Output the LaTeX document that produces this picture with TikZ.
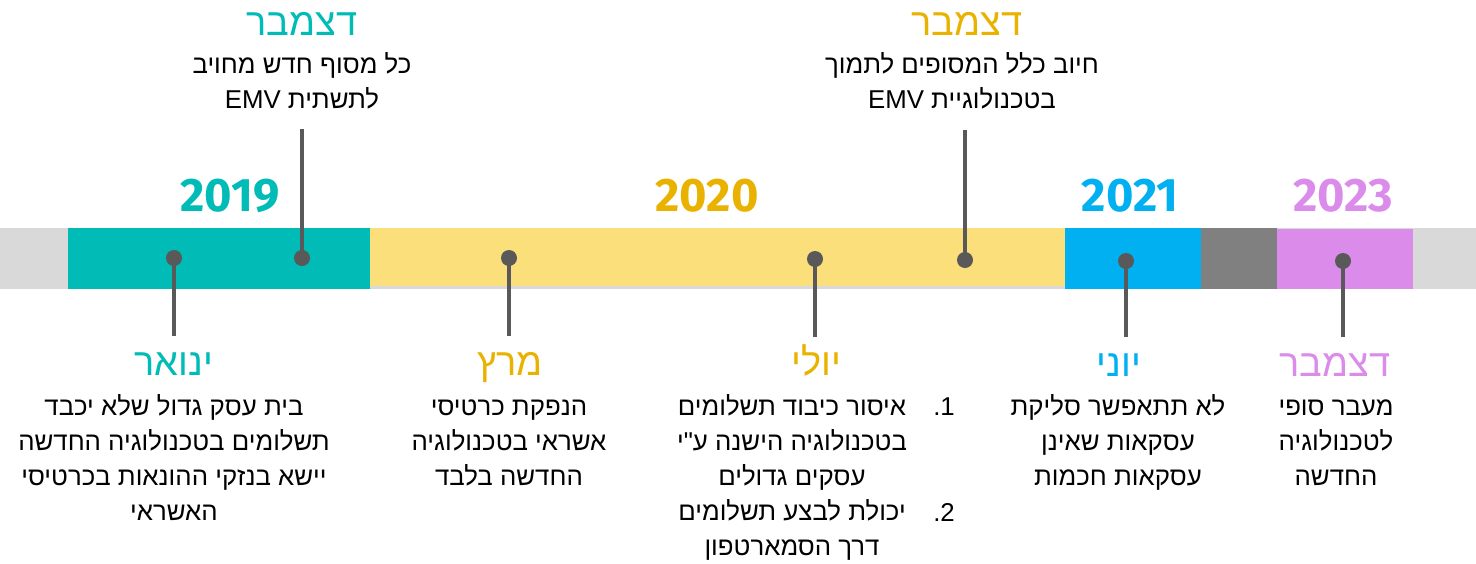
\documentclass[tikz,border=0pt]{standalone}
\usepackage{fontspec}
\setmainfont{Liberation Sans}[Script=Hebrew]
\newfontfamily\yearfont{Fira Sans}
\TeXXeTstate=1
\usetikzlibrary{positioning}
\definecolor{Teal}{RGB}{0, 187, 182}
\definecolor{GoldText}{RGB}{234, 178, 0}
\definecolor{GoldBar}{RGB}{250, 223, 122}
\definecolor{Sky}{RGB}{0, 176, 240}
\definecolor{Lilac}{RGB}{219, 140, 234}
\definecolor{BarGray}{RGB}{217, 217, 217}
\definecolor{MidGray}{RGB}{128, 128, 128}
\definecolor{Stem}{RGB}{89, 89, 89}
\newcommand{\heb}[1]{\beginR #1\endR}
\newcommand{\qmark}{\XeTeXglyph\the\XeTeXcharglyph"22\relax}

\begin{document}
\begin{tikzpicture}[x=1pt, y=-1pt,
    stem/.style={draw=Stem, line width=4.5pt},
    dot/.style={circle, fill=Stem, inner sep=0pt, minimum size=16pt},
    year/.style={font=\yearfont\bfseries\fontsize{47}{47}\selectfont, anchor=base},
    month/.style={font=\fontsize{38}{40}\selectfont, anchor=base},
    body/.style={font=\fontsize{25.8}{35}\selectfont, align=center, anchor=base, inner sep=0pt}]
            \useasboundingbox (0,0) rectangle (1476,563);

            % the time bar
            \fill[BarGray] (0,228) rectangle (1476,289);
            \fill[Teal] (68,228) rectangle (370,289);
            \fill[GoldBar] (370,228) rectangle (1065,286);
            \fill[Sky] (1065,228) rectangle (1201,289);
            \fill[MidGray] (1201,228) rectangle (1277,289);
            \fill[Lilac] (1277,229) rectangle (1413,289);

            % years
            \node[year, text=Teal] (y2019) at (230,211) {2019};
            \node[year, text=GoldText] (y2020) at (707,211) {2020};
            \node[year, text=Sky] (y2021) at (1130,211) {2021};
            \node[year, text=Lilac] (y2023) at (1343,211) {2023};

            % stems ends
            \coordinate (janEnd) at (174,336);
            \coordinate (decAEnd) at (302,129);
            \coordinate (marEnd) at (509,336);
            \coordinate (julEnd) at (815,337);
            \coordinate (decBEnd) at (965,130);
            \coordinate (junEnd) at (1126,337);
            \coordinate (decCEnd) at (1343,337);

            % dots on the bar
            \node[dot] (janDot) at (174,258) {};
            \node[dot] (decADot) at (302,258) {};
            \node[dot] (marDot) at (509,258) {};
            \node[dot] (julDot) at (815,259) {};
            \node[dot] (decBDot) at (965,260) {};
            \node[dot] (junDot) at (1126,261) {};
            \node[dot] (decCDot) at (1343,261) {};

            \draw[stem] (janDot.center) -- (janEnd);
            \draw[stem] (decADot.center) -- (decAEnd);
            \draw[stem] (marDot.center) -- (marEnd);
            \draw[stem] (julDot.center) -- (julEnd);
            \draw[stem] (decBDot.center) -- (decBEnd);
            \draw[stem] (junDot.center) -- (junEnd);
            \draw[stem] (decCDot.center) -- (decCEnd);

            % top events (base = last line)
            \node[month, text=Teal] (decA) at (302,35) {\heb{דצמבר}};
            \node[body] (decAText) at (302,108) {\heb{כל מסוף חדש מחויב}\\\heb{לתשתית \beginL EMV\endL}};

            \node[month, text=GoldText] (decB) at (967,35) {\heb{דצמבר}};
            \node[body] (decBText) at (962,108) {\heb{חיוב כלל המסופים לתמוך}\\\heb{בטכנולוגיית \beginL EMV\endL}};

            % bottom events
            \node[month, text=Teal] (jan) at (174,375) {\heb{ינואר}};
            \node[body] (janText) at (174,520) {\heb{בית עסק גדול שלא יכבד}\\\heb{תשלומים בטכנולוגיה החדשה}\\\heb{יישא בנזקי ההונאות בכרטיסי}\\\heb{האשראי}};

            \node[month, text=GoldText] (mar) at (510,375) {\heb{מרץ}};
            \node[body] (marText) at (509,485) {\heb{הנפקת כרטיסי}\\\heb{אשראי בטכנולוגיה}\\\heb{החדשה בלבד}};

            \node[month, text=GoldText] (jul) at (816,375) {\heb{יולי}};
            \node[body] (julText) at (792,555) {\heb{איסור כיבוד תשלומים}\\\heb{בטכנולוגיה הישנה ע\qmark י}\\\heb{עסקים גדולים}\\\heb{יכולת לבצע תשלומים}\\\heb{דרך הסמארטפון}};
            \node[body] (julOne) at (944,415) {.\kern0pt 1};
            \node[body] (julTwo) at (944,521) {.\kern0pt 2};

            \node[month, text=Sky] (jun) at (1119,376) {\heb{יוני}};
            \node[body] (junText) at (1118,485) {\heb{לא תתאפשר סליקת}\\\heb{עסקאות שאינן}\\\heb{עסקאות חכמות}};

            \node[month, text=Lilac] (decC) at (1335,376) {\heb{דצמבר}};
            \node[body] (decCText) at (1336,485) {\heb{מעבר סופי}\\\heb{לטכנולוגיה}\\\heb{החדשה}};
        \end{tikzpicture}
\end{document}
